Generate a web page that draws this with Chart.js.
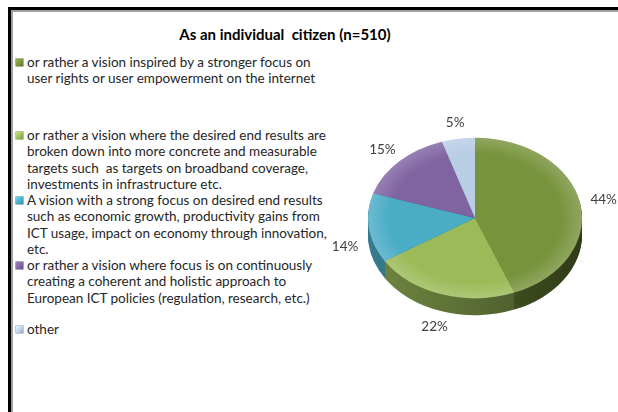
<!DOCTYPE html>
<html>
<head>
<meta charset="utf-8">
<script src="https://cdn.jsdelivr.net/npm/chart.js@4"></script>
<style>
html,body{margin:0;padding:0;background:#fff;}
body{width:618px;height:412px;position:relative;overflow:hidden;font-family:Lato,"Open Sans",sans-serif;}
#frame{position:absolute;left:8px;top:7px;width:640px;height:440px;border-top:3px solid #000;border-left:3px solid #000;box-shadow:inset 2px 2px 0 #a0a0a0;}
#title{position:absolute;left:0;width:570px;top:25px;text-align:center;font-weight:bold;font-size:15px;color:#000;white-space:pre;}
#legend{position:absolute;left:15px;top:0;font-size:13.5px;color:#262626;}
.item{position:absolute;left:0;white-space:pre;}
.box{position:absolute;left:1px;width:7px;height:7px;}
.lines{position:absolute;left:12px;top:0;line-height:16.3px;}
canvas{position:absolute;left:0;top:0;}
</style>
</head>
<body>
<div id="frame"></div>
<div id="title">As an individual  citizen (n=510)</div>
<div id="legend"></div>
<canvas id="pie" width="618" height="412"></canvas>
<script>
/* ---- data ---- */
const categories = [
  ["or rather a vision inspired by a stronger focus on", "user rights or user empowerment on the internet"],
  ["or rather a vision where the desired end results are", "broken down into more concrete and measurable", "targets such  as targets on broadband coverage,", "investments in infrastructure etc."],
  ["A vision with a strong focus on desired end results", "such as economic growth, productivity gains from", "ICT usage, impact on economy through innovation,", "etc."],
  ["or rather a vision where focus is on continuously", "creating a coherent and holistic approach to", "European ICT policies (regulation, research, etc.)"],
  ["other"]
];
const shares = [44, 22, 14, 15, 5];

/* ---- look ---- */
const colours = ["#77933c", "#9bbb59", "#4bacc6", "#8064a2", "#b9cde5"];
const legendTops = [54, 127, 192, 257, 321];
const tilt = 0.75;   // vertical squash of the disc
const depth = 17;    // thickness of the disc in px

function shade(hex, f) {
  const n = parseInt(hex.slice(1), 16);
  const c = v => Math.min(255, Math.round(v * f));
  return `rgb(${c((n >> 16) & 255)},${c((n >> 8) & 255)},${c(n & 255)})`;
}

/* legend */
const legend = document.getElementById("legend");
categories.forEach((lines, i) => {
  const item = document.createElement("div");
  item.className = "item";
  item.style.top = legendTops[i] + "px";
  const box = document.createElement("div");
  box.className = "box";
  box.style.top = "5px";
  box.style.background = `linear-gradient(135deg, ${shade(colours[i], 1.25)}, ${colours[i]} 60%, ${shade(colours[i], 0.8)})`;
  box.style.boxShadow = `0 0 0 0.5px ${shade(colours[i], 0.7)}`;
  const txt = document.createElement("div");
  txt.className = "lines";
  txt.textContent = lines.join("\n");
  item.appendChild(box);
  item.appendChild(txt);
  legend.appendChild(item);
});

/* 3D disc: side walls before the slices, squash while slices draw, labels after */
const pie3d = {
  id: "pie3d",
  beforeDatasetsDraw(chart) {
    const ctx = chart.ctx;
    const arcs = chart.getDatasetMeta(0).data;
    const cx = arcs[0].x, cy = arcs[0].y, R = arcs[0].outerRadius;
    for (let d = depth; d > 0; d--) {
      ctx.save();
      ctx.translate(cx, cy + d);
      ctx.scale(1, tilt);
      ctx.translate(-cx, -cy);
      arcs.forEach((a, i) => {
        const g = ctx.createLinearGradient(cx - R, 0, cx + R, 0);
        g.addColorStop(0, shade(colours[i], 0.72));
        g.addColorStop(0.5, shade(colours[i], 0.58));
        g.addColorStop(1, shade(colours[i], 0.4));
        ctx.beginPath();
        ctx.moveTo(cx, cy);
        ctx.arc(cx, cy, a.outerRadius, a.startAngle, a.endAngle);
        ctx.closePath();
        ctx.fillStyle = g;
        ctx.fill();
      });
      ctx.restore();
    }
    ctx.save();
    ctx.translate(cx, cy);
    ctx.scale(1, tilt);
    ctx.translate(-cx, -cy);
  },
  afterDatasetsDraw(chart) {
    const ctx = chart.ctx;
    const arcs = chart.getDatasetMeta(0).data;
    const cx = arcs[0].x, cy = arcs[0].y, R = arcs[0].outerRadius;
    // soft bevel along the rim of the top face
    arcs.forEach((a, i) => {
      const g = ctx.createRadialGradient(cx, cy, R * 0.8, cx, cy, R);
      g.addColorStop(0, "rgba(255,255,255,0)");
      g.addColorStop(1, "rgba(255,255,255,0.18)");
      ctx.beginPath();
      ctx.moveTo(cx, cy);
      ctx.arc(cx, cy, R, a.startAngle, a.endAngle);
      ctx.closePath();
      ctx.fillStyle = g;
      ctx.fill();
    });
    ctx.restore();

    const values = chart.data.datasets[0].data;
    ctx.save();
    ctx.font = "13.5px Lato, 'Open Sans', sans-serif";
    ctx.fillStyle = "#404040";
    ctx.textAlign = "center";
    ctx.textBaseline = "middle";
    arcs.forEach((a, i) => {
      const mid = (a.startAngle + a.endAngle) / 2;
      const dx = Math.cos(mid), dy = Math.sin(mid);
      const r = a.outerRadius * 1.1;
      const text = values[i] + "%";
      const w = ctx.measureText(text).width;
      const x = a.x + dx * r + dx * w / 2;
      const y = a.y + dy * r * tilt + dy * 8 + (dy > 0 ? depth : 0);
      ctx.fillText(text, x, y);
    });
    ctx.restore();
  }
};

new Chart(document.getElementById("pie"), {
  type: "pie",
  data: {
    labels: categories.map(l => l.join(" ")),
    datasets: [{
      data: shares,
      backgroundColor: colours,
      borderWidth: 0,
      hoverOffset: 0,
      offset: 0
    }]
  },
  options: {
    responsive: false,
    animation: false,
    events: [],
    layout: { padding: { left: 368, right: 36, top: 111, bottom: 87 } },
    plugins: { legend: { display: false }, tooltip: { enabled: false }, title: { display: false } }
  },
  plugins: [pie3d]
});
</script>
</body>
</html>
